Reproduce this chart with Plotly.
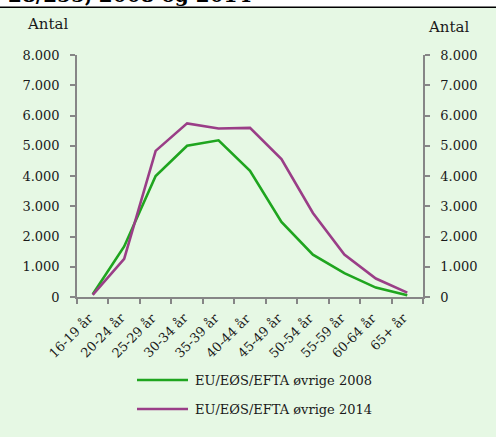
import plotly.graph_objects as go

categories = ["16-19 år", "20-24 år", "25-29 år", "30-34 år", "35-39 år", "40-44 år",
              "45-49 år", "50-54 år", "55-59 år", "60-64 år", "65+ år"]
series_names = ["EU/EØS/EFTA øvrige 2008", "EU/EØS/EFTA øvrige 2014"]
values_2008 = [90, 1670, 4000, 5000, 5180, 4170, 2480, 1400, 790, 310, 55]
values_2014 = [70, 1260, 4830, 5740, 5570, 5590, 4560, 2780, 1400, 610, 145]
y_ticks = [0, 1000, 2000, 3000, 4000, 5000, 6000, 7000, 8000]
title_text = "28/255, 2008 og 2014"

colors = ["#1FA51F", "#9A3E87"]
bg = "#E6F8E4"
axis_col = "#868686"
font_fam = "DejaVu Serif"
txt_col = "#1A1A1A"

W, H = 496, 437
L, R, T, B = 77, 73, 55, 140
ph = H - T - B


def py(Y):
    return (H - B - Y) / ph


def px(X):
    return (X - L) / (W - L - R)


fig = go.Figure()
fig.add_trace(go.Scatter(x=categories, y=values_2008, mode="lines", name=series_names[0],
                         line=dict(color=colors[0], width=2.6), showlegend=False))
fig.add_trace(go.Scatter(x=categories, y=values_2014, mode="lines", name=series_names[1],
                         line=dict(color=colors[1], width=2.6), showlegend=False))
# invisible trace to activate right axis
fig.add_trace(go.Scatter(x=categories, y=values_2014, yaxis="y2", mode="lines",
                         line=dict(width=0), opacity=0, showlegend=False, hoverinfo="skip"))

yax = dict(range=[0, 8000], tickvals=y_ticks, tickformat=",d", showgrid=False, zeroline=False,
           showline=True, linecolor=axis_col, linewidth=1.5, ticks="outside", ticklen=5,
           tickcolor=axis_col, tickwidth=1.5, ticklabelstandoff=8,
           tickfont=dict(family=font_fam, size=13, color=txt_col), fixedrange=True)

shapes = [
    dict(type="rect", xref="paper", yref="paper", x0=-0.5, x1=1.5, y0=py(7), y1=py(-20),
         fillcolor="white", line=dict(width=0), layer="above"),
    dict(type="line", xref="paper", yref="paper", x0=-0.5, x1=1.5, y0=py(7.3), y1=py(7.3),
         line=dict(color="black", width=1.5), layer="above"),
]
annotations = [
    dict(text=title_text, xref="paper", yref="paper", x=px(6), y=py(9), xanchor="left",
         yanchor="bottom", showarrow=False,
         font=dict(family=font_fam, size=20, color="black", weight="bold")),
    dict(text="Antal", xref="paper", yref="paper", x=px(47.5), y=py(24), xanchor="center",
         yanchor="middle", showarrow=False, font=dict(family=font_fam, size=15, color=txt_col)),
    dict(text="Antal", xref="paper", yref="paper", x=px(448), y=py(27), xanchor="center",
         yanchor="middle", showarrow=False, font=dict(family=font_fam, size=15, color=txt_col)),
]
# rotated category labels (positioned at category index on the x axis)
for i, c in enumerate(categories):
    annotations.append(dict(text=c, xref="x", yref="paper", x=i, y=py(309), xanchor="right",
                            yanchor="top", xshift=5, textangle=-45, showarrow=False,
                            borderpad=0,
                            font=dict(family=font_fam, size=13, color=txt_col)))
# manual legend
for i, (name, Y) in enumerate(zip(series_names, [380, 409])):
    shapes.append(dict(type="line", xref="paper", yref="paper", x0=px(137), x1=px(188),
                       y0=py(Y), y1=py(Y), line=dict(color=colors[i], width=2.6)))
    annotations.append(dict(text=name, xref="paper", yref="paper", x=px(193), y=py(Y),
                            xanchor="left", yanchor="middle", showarrow=False,
                            font=dict(family=font_fam, size=13, color=txt_col)))

fig.update_layout(
    width=W, height=H, margin=dict(l=L, r=R, t=T, b=B, pad=0),
    paper_bgcolor=bg, plot_bgcolor=bg, separators=",.",
    xaxis=dict(type="category", categoryorder="array", categoryarray=categories,
               range=[-0.5, len(categories) - 0.5], tickson="boundaries", ticks="outside",
               ticklen=5, tickcolor=axis_col, tickwidth=1.5, showline=True,
               linecolor=axis_col, linewidth=1.5, showgrid=False, showticklabels=False,
               fixedrange=True),
    yaxis=yax,
    yaxis2=dict(yax, overlaying="y", side="right"),
    shapes=shapes, annotations=annotations,
    showlegend=False,
)

fig.write_html("out.html", config=dict(displayModeBar=False),
               post_script="document.body.style.margin='0';document.body.style.overflow='hidden';")
